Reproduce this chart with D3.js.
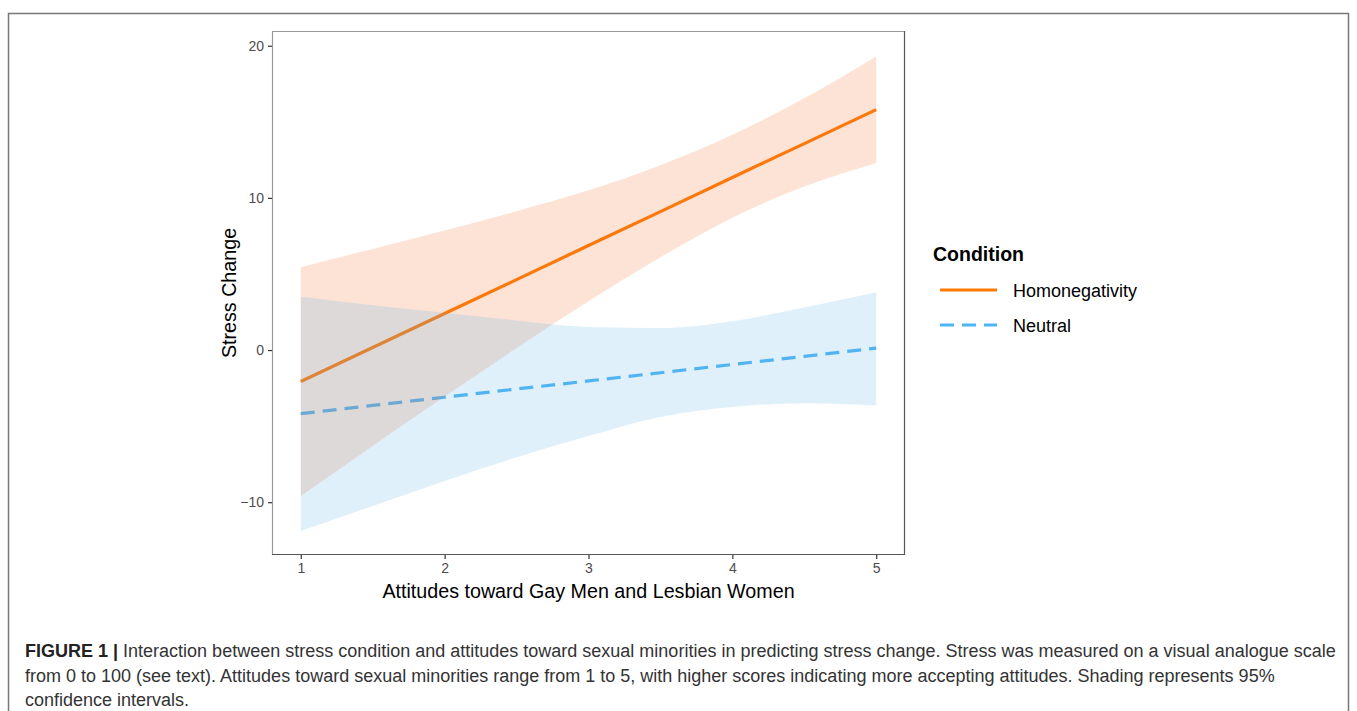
<!DOCTYPE html>
<html>
<head>
<meta charset="utf-8">
<script src="https://cdn.jsdelivr.net/npm/d3@7"></script>
<style>
  html, body { margin: 0; padding: 0; background: #fff; }
  svg { display: block; }
</style>
</head>
<body>
<svg id="chart" width="1357" height="711"></svg>
<script>
// ---- data ----
const xValues = [1, 1.5, 2, 2.5, 3, 3.5, 4, 4.5, 5];
const homoFit   = [-2.07, 0.17, 2.40, 4.63, 6.87, 9.10, 11.34, 13.57, 15.80];
const homoUpper = [5.45, 6.65, 7.85, 9.13, 10.50, 12.15, 14.15, 16.55, 19.30];
const homoLower = [-9.60, -6.30, -3.05, 0.13, 3.20, 6.10, 8.70, 10.75, 12.30];
const neutFit   = [-4.18, -3.64, -3.10, -2.56, -2.03, -1.49, -0.95, -0.41, 0.13];
const neutUpper = [3.50, 2.95, 2.45, 1.95, 1.52, 1.45, 1.90, 2.80, 3.80];
const neutLower = [-11.90, -10.25, -8.60, -7.05, -5.65, -4.40, -3.75, -3.50, -3.65];
const xTicks = [1, 2, 3, 4, 5];
const yTicks = [-10, 0, 10, 20];
const seriesNames = ["Homonegativity", "Neutral"];
const legendTitle = "Condition";
const xTitle = "Attitudes toward Gay Men and Lesbian Women";
const yTitle = "Stress Change";
const captionBold = "FIGURE 1 |";
const captionLines = [
  " Interaction between stress condition and attitudes toward sexual minorities in predicting stress change. Stress was measured on a visual analogue scale",
  "from 0 to 100 (see text). Attitudes toward sexual minorities range from 1 to 5, with higher scores indicating more accepting attitudes. Shading represents 95%",
  "confidence intervals."
];

const FONT = "'Liberation Sans', Arial, Helvetica, sans-serif";
const svg = d3.select("#chart");

// outer figure frame
svg.append("rect")
  .attr("x", 8.5).attr("y", 13.5).attr("width", 1340).attr("height", 720)
  .attr("fill", "none").attr("stroke", "#777").attr("stroke-width", 1.5);

const panel = { left: 272, right: 905, top: 31, bottom: 555 };

const x = d3.scaleLinear().domain([0.8, 5.2]).range([panel.left, panel.right]);
const y = d3.scaleLinear().domain([-13.47, 20.97]).range([panel.bottom, panel.top]);

const orangeLine = "#FF7A00";
const blueLine = "#4CB5F5";
const orangeFill = "#F57332";
const blueFill = "#62B6E5";

const g = svg.append("g");

const line = d3.line().x((d, i) => x(xValues[i])).y(d => y(d));
const area = (up, lo) => d3.area()
  .x((d, i) => x(xValues[i]))
  .y0((d, i) => y(lo[i]))
  .y1((d, i) => y(up[i]))
  .curve(d3.curveMonotoneX)(xValues);

// lines first
g.append("path").attr("d", line(homoFit))
  .attr("fill", "none").attr("stroke", orangeLine).attr("stroke-width", 3.2);
g.append("path").attr("d", line(neutFit))
  .attr("fill", "none").attr("stroke", blueLine).attr("stroke-width", 3.2)
  .attr("stroke-dasharray", "14,8");

// ribbons on top
g.append("path").attr("d", area(homoUpper, homoLower))
  .attr("fill", orangeFill).attr("fill-opacity", 0.2);
g.append("path").attr("d", area(neutUpper, neutLower))
  .attr("fill", blueFill).attr("fill-opacity", 0.2);

// panel border
svg.append("line").attr("x1", panel.left).attr("x2", panel.right)
  .attr("y1", panel.top + 0.5).attr("y2", panel.top + 0.5)
  .attr("stroke", "#999").attr("stroke-width", 1.2);
svg.append("line").attr("x1", panel.left + 0.5).attr("x2", panel.left + 0.5)
  .attr("y1", panel.top).attr("y2", panel.bottom)
  .attr("stroke", "#999").attr("stroke-width", 1.2);
svg.append("line").attr("x1", panel.right - 0.5).attr("x2", panel.right - 0.5)
  .attr("y1", panel.top).attr("y2", panel.bottom)
  .attr("stroke", "#555").attr("stroke-width", 1.2);
svg.append("line").attr("x1", panel.left).attr("x2", panel.right)
  .attr("y1", panel.bottom - 0.5).attr("y2", panel.bottom - 0.5)
  .attr("stroke", "#555").attr("stroke-width", 1.2);

// axes
const xAxis = d3.axisBottom(x).tickValues(xTicks).tickSize(4).tickPadding(4).tickFormat(d3.format("d"));
const yAxis = d3.axisLeft(y).tickValues(yTicks).tickSize(4).tickPadding(4).tickFormat(d3.format("d"));

const gx = svg.append("g").attr("transform", `translate(0,${panel.bottom})`).call(xAxis);
const gy = svg.append("g").attr("transform", `translate(${panel.left},0)`).call(yAxis);
[gx, gy].forEach(a => {
  a.select(".domain").remove();
  a.selectAll(".tick line").attr("stroke", "#333").attr("stroke-width", 1.2);
  a.selectAll(".tick text").attr("fill", "#4d4d4d").style("font-family", FONT).style("font-size", "14px");
});

// axis titles
svg.append("text").attr("x", (panel.left + panel.right) / 2).attr("y", 598)
  .attr("text-anchor", "middle").style("font-family", FONT).style("font-size", "19.7px")
  .attr("fill", "#000").text(xTitle);
svg.append("text")
  .attr("transform", `translate(236,${(panel.top + panel.bottom) / 2}) rotate(-90)`)
  .attr("text-anchor", "middle").style("font-family", FONT).style("font-size", "19.7px")
  .attr("fill", "#000").text(yTitle);

// legend
svg.append("text").attr("x", 933).attr("y", 261)
  .style("font-family", FONT).style("font-size", "19.5px").style("font-weight", "bold")
  .attr("fill", "#000").text(legendTitle);
const legendY = [290, 325];
const legendStroke = [orangeLine, blueLine];
const legendDash = [null, "14,8"];
seriesNames.forEach((name, i) => {
  svg.append("line").attr("x1", 940).attr("x2", 997)
    .attr("y1", legendY[i]).attr("y2", legendY[i])
    .attr("stroke", legendStroke[i]).attr("stroke-width", 3.2)
    .attr("stroke-dasharray", legendDash[i]);
  svg.append("text").attr("x", 1013).attr("y", legendY[i] + 6.5)
    .style("font-family", FONT).style("font-size", "18px")
    .attr("fill", "#000").text(name);
});

// caption
const capY = [657, 682, 706];
const cap = svg.append("g").style("font-family", FONT).style("font-size", "18px").attr("fill", "#333");
const t0 = cap.append("text").attr("x", 25).attr("y", capY[0]);
t0.append("tspan").style("font-weight", "bold").attr("fill", "#222").text(captionBold);
t0.append("tspan").text(captionLines[0]);
cap.append("text").attr("x", 25).attr("y", capY[1]).text(captionLines[1]);
cap.append("text").attr("x", 25).attr("y", capY[2]).text(captionLines[2]);
</script>
</body>
</html>
